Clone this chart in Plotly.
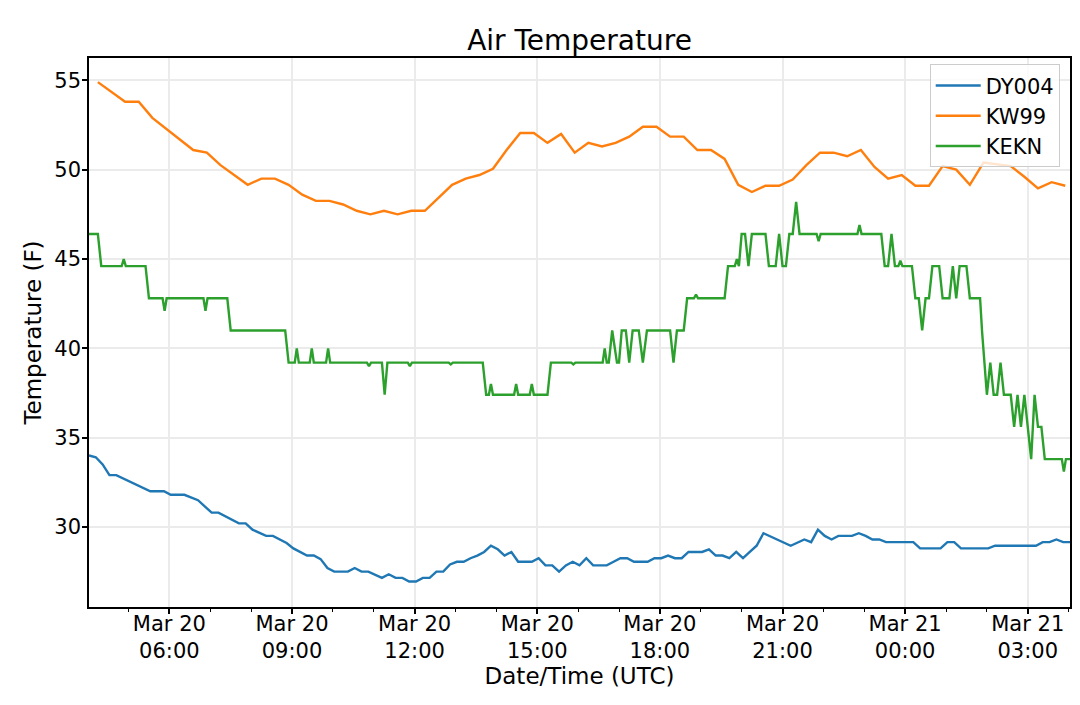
import plotly.graph_objects as go
from datetime import datetime, timedelta

# ---------------- data (UTC, window starts Mar 20 04:02) ----------------
dy004_time = ["04:02", "04:12", "04:22", "04:32", "04:42", "05:32", "05:52", "06:02", "06:22", "06:42",
              "07:02", "07:12", "07:42", "07:52", "08:02", "08:22", "08:32", "08:52", "09:02", "09:22",
              "09:32", "09:42", "09:52", "10:02", "10:22", "10:32", "10:42", "10:52", "11:12", "11:22",
              "11:32", "11:42", "11:52", "12:02", "12:12", "12:22", "12:32", "12:42", "12:52", "13:02",
              "13:12", "13:22", "13:32", "13:42", "13:52", "14:02", "14:12", "14:22", "14:32", "14:52",
              "15:02", "15:12", "15:22", "15:32", "15:42", "15:52", "16:02", "16:12", "16:22", "16:42",
              "16:52", "17:02", "17:12", "17:22", "17:42", "17:52", "18:02", "18:12", "18:22", "18:32",
              "18:42", "19:02", "19:12", "19:22", "19:32", "19:42", "19:52", "20:02", "20:12", "20:22",
              "20:32", "21:12", "21:32", "21:42", "21:52", "22:02", "22:12", "22:22", "22:42", "22:52",
              "23:02", "23:12", "23:22", "23:32", "00:12", "00:22", "00:52", "01:02", "01:12", "01:22",
              "02:02", "02:12", "03:12", "03:22", "03:32", "03:42", "03:52", "04:02"]
dy004_temp = [34.0, 33.9, 33.5, 32.9, 32.9, 32.0, 32.0, 31.8, 31.8, 31.5,
              30.8, 30.8, 30.2, 30.2, 29.85, 29.5, 29.5, 29.1, 28.8, 28.4,
              28.4, 28.2, 27.7, 27.5, 27.5, 27.7, 27.5, 27.5, 27.15, 27.35,
              27.15, 27.15, 26.95, 26.95, 27.15, 27.15, 27.5, 27.5, 27.9, 28.05,
              28.05, 28.25, 28.4, 28.6, 28.95, 28.75, 28.4, 28.6, 28.05, 28.05,
              28.25, 27.85, 27.85, 27.5, 27.85, 28.05, 27.85, 28.25, 27.85, 27.85,
              28.05, 28.25, 28.25, 28.05, 28.05, 28.25, 28.25, 28.4, 28.25, 28.25,
              28.6, 28.6, 28.75, 28.4, 28.4, 28.25, 28.6, 28.25, 28.6, 28.95,
              29.65, 28.95, 29.3, 29.15, 29.85, 29.5, 29.3, 29.5, 29.5, 29.65,
              29.5, 29.3, 29.3, 29.15, 29.15, 28.8, 28.8, 29.15, 29.15, 28.8,
              28.8, 28.95, 28.95, 29.15, 29.15, 29.3, 29.15, 29.15]

kw99_time = ["04:15", "04:55", "05:15", "05:35", "06:35", "06:55", "07:15", "07:35", "07:55", "08:15",
             "08:35", "08:55", "09:15", "09:35", "09:55", "10:15", "10:35", "10:55", "11:15", "11:35",
             "11:55", "12:15", "12:35", "12:55", "13:15", "13:35", "13:55", "14:15", "14:35", "14:55",
             "15:15", "15:35", "15:55", "16:15", "16:35", "16:55", "17:15", "17:35", "17:55", "18:15",
             "18:35", "18:55", "19:15", "19:35", "19:55", "20:15", "20:35", "20:55", "21:15", "21:35",
             "21:55", "22:15", "22:35", "22:55", "23:15", "23:35", "23:55", "00:15", "00:35", "00:55",
             "01:15", "01:35", "01:55", "02:15", "02:35", "02:55", "03:15", "03:35", "03:55"]
kw99_temp = [54.9, 53.8, 53.8, 52.9, 51.1, 50.95, 50.25, 49.7, 49.15, 49.5,
             49.5, 49.15, 48.6, 48.25, 48.25, 48.05, 47.7, 47.5, 47.7, 47.5,
             47.7, 47.7, 48.4, 49.15, 49.5, 49.7, 50.05, 51.1, 52.05, 52.05,
             51.5, 52.0, 50.95, 51.5, 51.3, 51.5, 51.85, 52.4, 52.4, 51.85,
             51.85, 51.1, 51.1, 50.6, 49.15, 48.75, 49.1, 49.1, 49.45, 50.25,
             50.95, 50.95, 50.75, 51.1, 50.15, 49.5, 49.7, 49.1, 49.1, 50.2,
             50.0, 49.15, 50.4, 50.3, 50.2, 49.6, 48.95, 49.3, 49.1]

kekn_time = ["04:02", "04:15", "04:20", "04:50", "04:53", "04:56", "05:25", "05:30", "05:50", "05:53",
             "05:56", "06:50", "06:53", "06:56", "07:25", "07:30", "08:50", "08:55", "09:04", "09:07",
             "09:10", "09:26", "09:29", "09:32", "09:50", "09:53", "09:56", "10:50", "10:53", "10:56",
             "11:12", "11:16", "11:20", "11:50", "11:53", "11:56", "12:50", "12:53", "12:56", "13:40",
             "13:45", "13:49", "13:52", "13:55", "14:26", "14:29", "14:32", "14:49", "14:52", "14:55",
             "15:15", "15:20", "15:50", "15:53", "15:56", "16:36", "16:39", "16:42", "16:45", "16:50",
             "16:57", "17:00", "17:04", "17:10", "17:15", "17:20", "17:29", "17:35", "17:41", "18:15",
             "18:20", "18:25", "18:35", "18:40", "18:50", "18:53", "18:56", "19:35", "19:40", "19:50",
             "19:53", "19:56", "20:00", "20:05", "20:10", "20:15", "20:35", "20:40", "20:50", "20:55",
             "21:00", "21:05", "21:10", "21:15", "21:20", "21:25", "21:50", "21:53", "21:56", "22:50",
             "22:53", "22:56", "23:25", "23:30", "23:35", "23:40", "23:45", "23:50", "23:53", "23:56",
             "00:10", "00:15", "00:20", "00:25", "00:30", "00:35", "00:40", "00:50", "00:55", "01:05",
             "01:10", "01:15", "01:20", "01:30", "01:35", "01:50", "01:53", "02:00", "02:05", "02:10",
             "02:15", "02:20", "02:25", "02:35", "02:40", "02:45", "02:50", "02:55", "03:05", "03:10",
             "03:15", "03:20", "03:25", "03:50", "03:53", "03:56", "04:02"]
kekn_temp = [46.4, 46.4, 44.6, 44.6, 45.0, 44.6, 44.6, 42.8, 42.8, 42.1,
             42.8, 42.8, 42.1, 42.8, 42.8, 41.0, 41.0, 39.2, 39.2, 40.0,
             39.2, 39.2, 40.0, 39.2, 39.2, 40.0, 39.2, 39.2, 39.0, 39.2,
             39.2, 37.4, 39.2, 39.2, 39.0, 39.2, 39.2, 39.1, 39.2, 39.2,
             37.4, 37.4, 38.0, 37.4, 37.4, 38.0, 37.4, 37.4, 38.0, 37.4,
             37.4, 39.2, 39.2, 39.1, 39.2, 39.2, 40.0, 39.2, 39.2, 41.0,
             39.2, 39.2, 41.0, 41.0, 39.2, 41.0, 41.0, 39.2, 41.0, 41.0,
             39.2, 41.0, 41.0, 42.8, 42.8, 43.0, 42.8, 42.8, 44.6, 44.6,
             45.0, 44.6, 46.4, 46.4, 44.6, 46.4, 46.4, 44.6, 44.6, 46.4,
             44.6, 44.6, 46.4, 46.4, 48.2, 46.4, 46.4, 46.0, 46.4, 46.4,
             46.9, 46.4, 46.4, 44.6, 44.6, 46.4, 44.6, 44.6, 44.9, 44.6,
             44.6, 42.8, 42.8, 41.0, 42.8, 42.8, 44.6, 44.6, 42.8, 42.8,
             44.6, 42.8, 44.6, 44.6, 42.8, 42.8, 40.9, 37.4, 39.2, 37.4,
             37.4, 39.2, 37.4, 37.4, 35.6, 37.4, 35.6, 37.4, 33.8, 37.4,
             35.6, 35.6, 33.8, 33.8, 33.1, 33.8, 33.8]

series_names = ["DY004", "KW99", "KEKN"]
series_colors = ["#1f77b4", "#ff7f0e", "#2ca02c"]

x_tick_step_hours = 3
y_ticks = [30, 35, 40, 45, 50, 55]


def to_datetimes(hhmm, start="2020-03-20"):
    base = datetime.strptime(start, "%Y-%m-%d")
    out, day, prev = [], 0, None
    for s in hhmm:
        h, m = map(int, s.split(":"))
        mins = h * 60 + m
        if prev is not None and mins < prev:
            day += 1
        prev = mins
        out.append(base + timedelta(days=day, minutes=mins))
    return out


fig = go.Figure()
for name, color, t, v in zip(series_names, series_colors,
                             [dy004_time, kw99_time, kekn_time],
                             [dy004_temp, kw99_temp, kekn_temp]):
    fig.add_trace(go.Scatter(x=to_datetimes(t), y=v, mode="lines", name=name,
                             line=dict(color=color, width=2.4)))

axis_common = dict(
    showline=True, linecolor="black", linewidth=1.6, mirror=True,
    ticks="outside", ticklen=5, tickwidth=1.6, tickcolor="black",
    showgrid=True, gridcolor="#ebebeb", gridwidth=1.5, zeroline=False,
    tickfont=dict(size=21, color="black"),
)

fig.update_layout(
    width=1080, height=705,
    margin=dict(l=89, r=8, t=58, b=98),
    plot_bgcolor="white", paper_bgcolor="white",
    font=dict(family="DejaVu Sans", size=20, color="black"),
    title=dict(text="Air Temperature", font=dict(size=28, color="black"),
               x=0.5, xref="paper", xanchor="center",
               y=1 - 40 / 705, yref="container", yanchor="middle"),
    xaxis=dict(
        type="date",
        range=["2020-03-20 04:02", "2020-03-21 04:02"],
        tick0="2020-03-20 00:00", dtick=x_tick_step_hours * 3600000,
        tickformat="%b %d<br>%H:%M",
        ticklabelstandoff=-8,
        minor=dict(dtick=3600000, ticks="outside", ticklen=3.5, tickwidth=1.2,
                   tickcolor="black", showgrid=False),
        title=dict(text="Date/Time (UTC)", font=dict(size=23), standoff=4),
        **axis_common,
    ),
    yaxis=dict(
        range=[25.52, 56.25],
        tickvals=y_ticks,
        ticklabelstandoff=-3,
        title=dict(text="Temperature (F)", font=dict(size=23), standoff=6),
        **axis_common,
    ),
    legend=dict(x=0.9895, y=0.9885, xanchor="right", yanchor="top",
                itemwidth=45,
                bgcolor="rgba(255,255,255,0.8)", bordercolor="#cccccc", borderwidth=1,
                font=dict(size=21)),
)

fig.write_html("out.html", config={"displayModeBar": False},
               post_script="document.body.style.margin='0px';")
